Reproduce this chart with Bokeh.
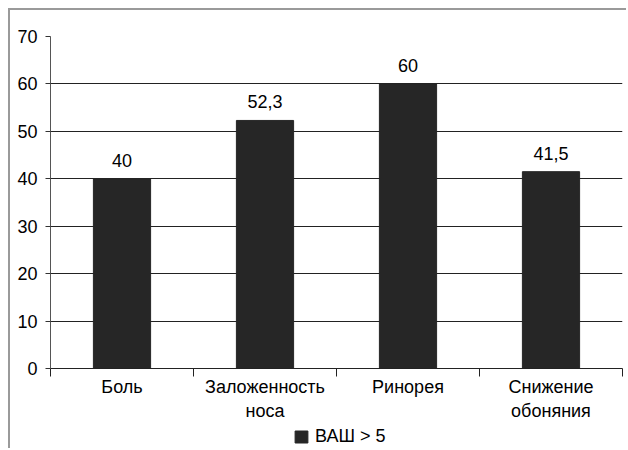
import numpy as np
from bokeh.plotting import figure
from bokeh.layouts import column
from bokeh.models import (ColumnDataSource, FixedTicker, LabelSet, Legend, LegendItem, Range1d)
from bokeh.core.properties import value
from bokeh.embed import file_html
from bokeh.resources import INLINE

categories = ["Боль", "Заложенность\nноса", "Ринорея", "Снижение\nобоняния"]
values = [40, 52.3, 60, 41.5]
series_name = "ВАШ > 5"
y_ticks = [0, 10, 20, 30, 40, 50, 60, 70]

FONT = "Liberation Sans"
FS = "18px"
BAR = "#262626"

xpos = np.arange(len(categories)) + 0.5
labels = [f"{v:g}".replace(".", ",") for v in values]
src = ColumnDataSource(dict(x=xpos, top=values, label=labels))

p = figure(width=618, height=413, x_range=(0, len(categories)), y_range=(0, 70),
           output_backend="svg", toolbar_location=None,
           min_border_left=40, min_border_right=6, min_border_top=26, min_border_bottom=51)
p.outline_line_color = None
p.background_fill_color = "white"
p.border_fill_color = "white"

r = p.vbar(x="x", top="top", width=0.4, source=src, fill_color=BAR, line_color=BAR)

ls = LabelSet(x="x", y="top", text="label", source=src, text_align="center",
              text_baseline="alphabetic", y_offset=12, text_font=value(FONT),
              text_font_size=value(FS), text_color="black")
p.add_layout(ls)

xa = p.xaxis[0]
xa.ticker = FixedTicker(ticks=list(xpos), minor_ticks=list(range(len(categories) + 1)))
xa.major_label_overrides = {float(x): c for x, c in zip(xpos, categories)}
xa.major_tick_out = 0
xa.major_tick_in = 0
xa.minor_tick_out = 8
xa.minor_tick_in = 0
xa.minor_tick_line_color = "#222222"
xa.axis_line_color = "#222222"
xa.major_label_text_font = FONT
xa.major_label_text_font_size = FS
xa.major_label_text_color = "black"
xa.major_label_standoff = 0

ya = p.yaxis[0]
ya.ticker = FixedTicker(ticks=y_ticks)
ya.minor_tick_line_color = None
ya.major_tick_out = 5
ya.major_tick_in = 0
ya.major_tick_line_color = "#333333"
ya.axis_line_color = "#555555"
ya.major_label_text_font = FONT
ya.major_label_text_font_size = FS
ya.major_label_text_color = "black"
ya.major_label_standoff = 8

p.xgrid.visible = False
p.ygrid.grid_line_color = "#222222"
p.ygrid.grid_line_width = 1

# legend strip (the proxy bars sit below its visible y range, so only the legend shows)
p2 = figure(width=618, height=27, x_range=Range1d(0, len(categories)),
            y_range=Range1d(1000, 1001),
            output_backend="svg", toolbar_location=None,
            x_axis_type=None, y_axis_type=None,
            min_border_left=0, min_border_right=0, min_border_top=0, min_border_bottom=0)
p2.outline_line_color = None
p2.grid.visible = False
r2 = p2.vbar(x="x", top="top", width=0.4, source=src, fill_color=BAR, line_color=BAR)
legend = Legend(items=[LegendItem(label=series_name, renderers=[r2])],
                location=(243, 3), orientation="horizontal",
                glyph_width=16, glyph_height=15, label_standoff=6, label_height=20,
                label_text_font=FONT, label_text_font_size=FS, label_text_color="black",
                padding=0, margin=0, border_line_color=None, background_fill_alpha=0)
p2.add_layout(legend, "center")

layout = column(p, p2, spacing=0)
layout.styles = {"margin-left": "10px", "margin-top": "10px",
                 "box-shadow": "-2px -2px 0px 0px #9a9a9a"}

open("out.html", "w").write(file_html(layout, INLINE))
